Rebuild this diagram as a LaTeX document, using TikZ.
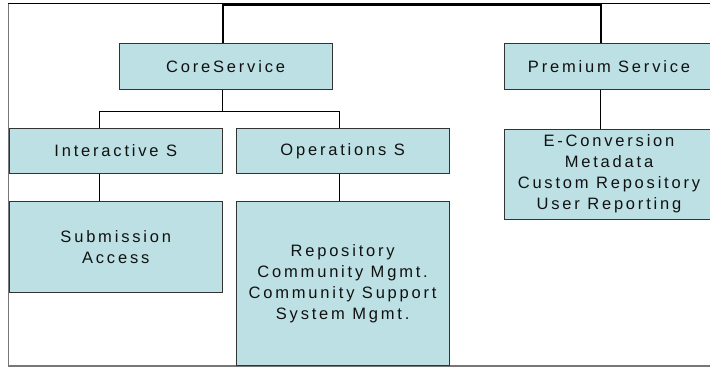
\documentclass[tikz,border=0pt]{standalone}
\usepackage{fontspec}
\setmainfont{Liberation Sans}[LetterSpace=17]
\definecolor{boxfill}{HTML}{BCE0E3}
\definecolor{boxline}{HTML}{333333}
\definecolor{txt}{HTML}{111111}
\definecolor{framegray}{HTML}{777777}
\begin{document}
\begin{tikzpicture}[x=1pt,y=-1pt,
  box/.style={draw=boxline, fill=boxfill, line width=1pt, inner sep=0pt, text=txt, align=center,
    font=\fontsize{16.5}{21}\selectfont},
  link/.style={line width=0.9pt, draw=black},
  toplink/.style={line width=2pt, draw=black},
  frame/.style={line width=1.5pt, draw=framegray}]
\useasboundingbox (0,0) rectangle (710,367);
\clip (0,0) rectangle (710,367);
% frame
\draw[frame] (8.5,3) -- (8.5,366.5);
\draw[frame] (8,366.2) -- (712,366.2);
\draw[line width=1pt, black] (8,3.5) -- (712,3.5);
% boxes
\node[box, minimum width=213pt, minimum height=45.5pt] (core) at (225.6,66.25) {CoreService};
\node[box, minimum width=210pt, minimum height=45.5pt] (prem) at (609,66.25) {Premium Service};
\node[box, minimum width=213.5pt, minimum height=45pt] (inter) at (115.75,151) {Interactive S};
\node[box, minimum width=213.3pt, minimum height=45pt] (ops) at (342.65,151) {Operations S};
\node[box, minimum width=213.5pt, minimum height=90.5pt] (sub) at (115.75,246.75) {Submission\\Access};
\node[box, minimum width=213.3pt, minimum height=163.5pt] (opsl) at (342.65,283.25) {Repository\\Community Mgmt.\\Community Support\\System Mgmt.};
\node[box, minimum width=210pt, minimum height=90pt] (preml) at (609,174) {E-Conversion\\Metadata\\Custom Repository\\User Reporting};
% junction coordinates
\coordinate (tl) at (222.8,4.5);
\coordinate (tr) at (600.7,4.5);
\coordinate (cj) at (222.8,111);
\coordinate (ij) at (99,111);
\coordinate (oj) at (339.7,111);
% connectors
\draw[toplink] (core.north -| tl) -- (tl) -- (tr) -- (prem.north -| tr);
\draw[link] (core.south -| cj) -- (cj);
\draw[link] (ij) -- (oj);
\draw[link] (ij) -- (inter.north -| ij);
\draw[link] (oj) -- (ops.north -| oj);
\draw[link] (inter.south -| ij) -- (sub.north -| ij);
\draw[link] (ops.south -| oj) -- (opsl.north -| oj);
\draw[link] (prem.south -| tr) -- (preml.north -| tr);
\end{tikzpicture}
\end{document}
